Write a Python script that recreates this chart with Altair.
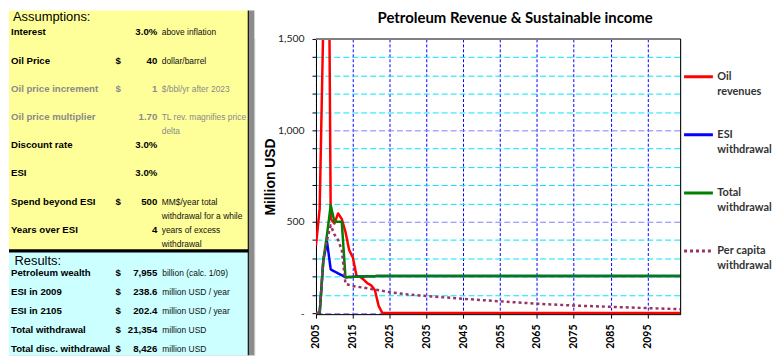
import altair as alt
import pandas as pd

# ---------------- chart data ----------------
series = ["Oil|revenues", "ESI|withdrawal", "Total|withdrawal", "Per capita|withdrawal"]
series_colors = ["#ff0000", "#0000ff", "#008000", "#993366"]
series_dash = [[1, 0], [1, 0], [1, 0], [3, 3]]

oil_years = [2005, 2006, 2007, 2008, 2009, 2010, 2011, 2012, 2013, 2014,
             2015, 2016, 2017, 2018, 2019, 2020, 2021, 2022, 2023, 2104]
oil_values = [370, 570, 1600, 3500, 515, 490, 545, 515, 445, 345,
              305, 205, 198, 182, 162, 152, 125, 40, 0, 0]

esi_years = [2005, 2006, 2007, 2008, 2009, 2010, 2011, 2012, 2013, 2014,
             2016, 2018, 2020, 2022, 2104]
esi_values = [0, 0, 290, 390, 238.6, 228, 217, 207, 196, 197,
              199, 200.5, 201.5, 202.4, 202.4]

total_years = [2005, 2006, 2007, 2008, 2009, 2010, 2011, 2012, 2013, 2014,
               2016, 2018, 2020, 2022, 2104]
total_values = [0, 0, 290, 430, 590, 500, 500, 500, 196, 197,
                199, 200.5, 201.5, 202.4, 202.4]

percap_years = [2005, 2006, 2007, 2008, 2009, 2010, 2011, 2012, 2013, 2015,
                2020, 2025, 2030, 2035, 2045, 2055, 2065, 2075, 2085, 2095, 2104]
percap_values = [0, 0, 290, 400, 480, 430, 400, 345, 160, 148,
                 132, 114, 102, 93, 78, 64, 51, 41, 34, 27, 21]

x_ticks = [2005, 2015, 2025, 2035, 2045, 2055, 2065, 2075, 2085, 2095]
y_ticks = [0, 100, 200, 300, 400, 500, 600, 700, 800, 900, 1000,
           1100, 1200, 1300, 1400, 1500]

# ---------------- side table data ----------------
labels_a = ["Interest", "Oil Price", "Oil price increment", "Oil price multiplier",
            "Discount rate", "ESI", "Spend beyond ESI", "Years over ESI"]
dollar_a = ["", "$", "$", "", "", "", "$", ""]
value_a = ["3.0%", "40\u00a0", "1\u00a0", "1.70\u00a0", "3.0%", "3.0%", "500\u00a0", "4"]
desc_a = ["above inflation", "dollar/barrel", "$/bbl/yr after 2023",
          "TL rev. magnifies price\ndelta", "", "",
          "MM$/year total\nwithdrawal for a while", "years of excess\nwithdrawal"]
muted_rows = ["Oil price increment", "Oil price multiplier"]

labels_r = ["Petroleum wealth", "ESI in 2009", "ESI in 2105", "Total withdrawal",
            "Total disc. withdrawal"]
dollar_r = ["$", "$", "$", "$", "$"]
value_r = ["7,955\u00a0", "238.6\u00a0", "202.4\u00a0", "21,354\u00a0", "8,426\u00a0"]
desc_r = ["billion (calc. 1/09)", "million USD / year", "million USD / year",
          "million USD", "million USD"]

ARIAL = "Liberation Sans, Arial, sans-serif"
CAL = "Lato, Carlito, Calibri, sans-serif"

# ---------------- left panel ----------------
one = pd.DataFrame({"k": [0]})
TOP = -28.7  # the panel reaches above the plot row origin


def box(color, x, x2, y, y2):
    return alt.Chart(one).mark_rect(color=color, strokeWidth=0).encode(
        x=alt.value(x), x2=alt.value(x2), y=alt.value(y), y2=alt.value(y2))


df_a = pd.DataFrame({"label": labels_a, "dollar": dollar_a, "value": value_a, "desc": desc_a})
df_r = pd.DataFrame({"rlabel": labels_r, "dollar": dollar_r, "value": value_r, "desc": desc_r})

ya = alt.Y("label:N", sort=labels_a, axis=None,
           scale=alt.Scale(type="point", range=[-6.7, 192.3], padding=0))
yr = alt.Y("rlabel:N", sort=labels_r, axis=None,
           scale=alt.Scale(type="point", range=[235.9, 312.3], padding=0))

muted = alt.FieldOneOfPredicate(field="label", oneOf=muted_rows)
col_lab = alt.condition(muted, alt.value("#8a8a8a"), alt.value("#000000"))
col_desc = alt.condition(muted, alt.value("#8a8a8a"), alt.value("#111111"))

bold_txt = dict(font=ARIAL, fontSize=9.7, fontWeight="bold", baseline="middle")
desc_txt = dict(font=ARIAL, fontSize=8.5, baseline="middle", align="left")

a_label = alt.Chart(df_a).mark_text(align="left", **bold_txt).encode(
    x=alt.value(2), y=ya, text="label:N", color=col_lab)
a_dollar = alt.Chart(df_a).mark_text(align="center", **bold_txt).encode(
    x=alt.value(110), y=ya, text="dollar:N", color=col_lab)
a_value = alt.Chart(df_a).mark_text(align="right", **bold_txt).encode(
    x=alt.value(149.3), y=ya, text="value:N", color=col_lab)
a_desc = alt.Chart(df_a).mark_text(lineBreak="\n", lineHeight=14.5, **desc_txt).encode(
    x=alt.value(153.7), y=ya, text="desc:N", color=col_desc)

r_label = alt.Chart(df_r).mark_text(align="left", color="#000", **bold_txt).encode(
    x=alt.value(2), y=yr, text="rlabel:N")
r_dollar = alt.Chart(df_r).mark_text(align="center", color="#000", **bold_txt).encode(
    x=alt.value(110), y=yr, text="dollar:N")
r_value = alt.Chart(df_r).mark_text(align="right", color="#000", **bold_txt).encode(
    x=alt.value(149.3), y=yr, text="value:N")
r_desc = alt.Chart(df_r).mark_text(color="#111", **desc_txt).encode(
    x=alt.value(154.3), y=yr, text="desc:N")

heads = pd.DataFrame({"h": ["Assumptions:"]})
heads_r = pd.DataFrame({"h": ["Results:"]})
h_a = alt.Chart(heads).mark_text(align="left", baseline="alphabetic", font=ARIAL,
                                 fontSize=13, color="#000").encode(
    x=alt.value(4), y=alt.value(-17.7), text="h:N")
h_r = alt.Chart(heads_r).mark_text(align="left", baseline="alphabetic", font=ARIAL,
                                   fontSize=13, color="#000").encode(
    x=alt.value(5.5), y=alt.value(227.3), text="h:N")

left = alt.layer(
    box("#ffff99", 0, 241, TOP, 212),
    box("#ccffff", 0, 241, 213, 318.3),
    box("#000000", 0, 241, 211.6, 215),
    box("#000000", 240.3, 241.5, TOP, 318.3),
    box("#8c8c8c", 241.5, 247, TOP, 318.3),
    a_label, a_dollar, a_value, a_desc,
    r_label, r_dollar, r_value, r_desc,
    h_a, h_r,
).resolve_scale(y="independent").properties(width=247, height=318)

# ---------------- right chart ----------------
frames = []
for name, yrs, vals in [(series[0], oil_years, oil_values),
                        (series[1], esi_years, esi_values),
                        (series[2], total_years, total_values),
                        (series[3], percap_years, percap_values)]:
    frames.append(pd.DataFrame({"year": yrs, "value": vals, "series": name}))
df = pd.concat(frames, ignore_index=True)

leg = alt.Legend(orient="none", legendX=678, legendY=22, title=None, padding=0,
                 symbolType="stroke", symbolSize=841, symbolStrokeWidth=3,
                 labelExpr="split(datum.label, '|')", labelFont=CAL,
                 labelFontSize=11, labelFontWeight="bold", labelColor="#333333",
                 labelOffset=3, rowPadding=22.5, labelLimit=200)

grid_col = {"condition": {"test": "datum.value % 500 === 0", "value": "#7f7fff"},
            "value": "#00e5ff"}

x_scale = alt.Scale(domain=[2005, 2104], nice=False, zero=False)
y_scale = alt.Scale(domain=[-6, 1500], nice=False, zero=False)

x_axis = alt.Axis(values=x_ticks, format="d", labelAngle=270, labelFont=CAL,
                  labelFontWeight="bold", labelFontSize=10.5, labelColor="#000",
                  labelPadding=6, labelFlush=False, labelOverlap=False,
                  tickSize=4, tickColor="#000", domainColor="#000",
                  gridColor="#0000ff", gridDash=[3, 2], title=None, zindex=0)
y_axis = alt.Axis(values=y_ticks, title="Million USD", titleFont=ARIAL,
                  titleFontSize=14, titleFontWeight="bold", titleColor="#000",
                  titlePadding=0, labelFont=CAL, labelFontSize=10.5,
                  labelColor="#222", labelPadding=8, labelFlush=False,
                  labelOverlap=False,
                  labelExpr="datum.value === 0 ? '-\u00a0\u00a0\u00a0\u00a0' : (datum.value % 500 === 0 ? format(datum.value, ',') : '')",
                  tickSize=4, tickColor="#000", domainColor="#000",
                  gridColor=grid_col, gridDash=[6, 3], zindex=0)

lines = alt.Chart(df).mark_line(clip=True, strokeWidth=2.5, strokeJoin="round").encode(
    x=alt.X("year:Q", scale=x_scale, axis=x_axis),
    y=alt.Y("value:Q", scale=y_scale, axis=y_axis),
    color=alt.Color("series:N", sort=series,
                    scale=alt.Scale(domain=series, range=series_colors), legend=leg),
    strokeDash=alt.StrokeDash("series:N", sort=series,
                              scale=alt.Scale(domain=series, range=series_dash), legend=leg),
)

top_border = alt.Chart(one).mark_rule(color="#808080", strokeWidth=2).encode(
    y=alt.YDatum(1500, type="quantitative", scale=y_scale, axis=y_axis))
right_border = alt.Chart(one).mark_rule(color="#000000", strokeWidth=1).encode(
    x=alt.XDatum(2104, type="quantitative", scale=x_scale, axis=x_axis))

right = alt.layer(lines, top_border, right_border).properties(
    width=367, height=277,
    title=alt.TitleParams(text="Petroleum Revenue & Sustainable income", font=CAL,
                          fontSize=15, fontWeight="bold", offset=7.7, dx=17,
                          anchor="middle", color="#000"),
)

chart = alt.hconcat(left, right, spacing=7).properties(
    padding=0, background="white"
).configure_view(stroke="transparent").configure(
    style={"guide-label": {"lineHeight": 15}}
)

chart.save("out.html", embed_options={"renderer": "svg", "actions": False})
